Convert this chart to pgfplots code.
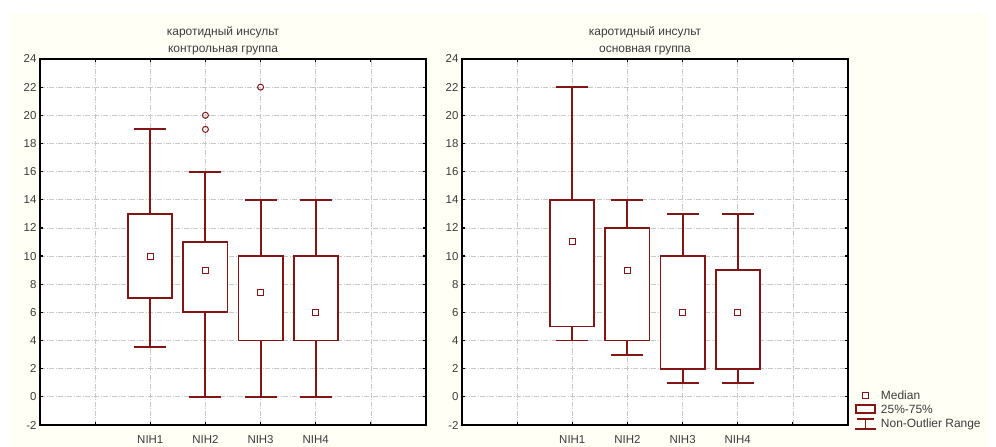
\documentclass[border=0pt]{standalone}
\usepackage{pgfplots}
\pgfplotsset{compat=1.18}
\usepgfplotslibrary{statistics}
\usepackage{fontspec}
\setmainfont{Liberation Sans}
\definecolor{bx}{RGB}{128,22,22}
\definecolor{bgc}{RGB}{255,255,245}
\definecolor{gr}{RGB}{200,200,200}
\definecolor{tx}{RGB}{60,60,60}
\newcommand{\fs}{\fontsize{12}{17}\selectfont}
\newcommand{\fst}{\fontsize{11.5}{14}\selectfont}
\pgfplotsset{
  mybox/.style={
    scale only axis, width=386bp, height=366bp,
    xmin=0, xmax=7, ymin=-2, ymax=24,
    xtick={0,1,2,3,4,5,6,7},
    xticklabels={,,NIH1,NIH2,NIH3,NIH4,,},
    ytick={-2,0,2,4,6,8,10,12,14,16,18,20,22,24},
    grid=major,
    major grid style={gr, dash pattern=on 5bp off 1.5bp on 1bp off 1.5bp, line width=0.7bp},
    tick align=inside, major tick length=3bp,
    tick style={black, line width=1.2bp},
    axis line style={black, line width=1.2bp},
    axis background/.style={fill=white},
    tick label style={font=\fst, text=tx},
    /pgf/number format/assume math mode=true,
    xticklabel style={yshift=-7bp},
    title style={font=\fs, text=tx, align=center, at={(0.5,1)}, anchor=south, yshift=-2.5bp, xshift=-10bp, inner sep=0pt},
    boxplot/draw direction=y,
    boxplot/box extend=0.8,
    boxplot/whisker extend=0.58,
    boxplot/every box/.style={fill=white},
    boxplot/draw/median/.code={},
  },
  bxs/.style={bx, line width=1.9bp, solid},
  medmark/.style={only marks, mark=square, mark size=3bp, bx, mark options={line width=1bp, fill=white}},
  outmark/.style={only marks, mark=o, mark size=3bp, bx, mark options={line width=1bp}},
}
\begin{document}
\begin{tikzpicture}
\path (0,0) rectangle (996bp,447bp);
\fill[bgc] (10bp,0) rectangle (990bp,434bp);
% left panel
\begin{axis}[mybox, at={(40bp,22bp)}, anchor=south west,
  title={каротидный инсульт\\контрольная группа}]
\addplot[bxs, boxplot prepared={draw position=2, lower whisker=3.55, lower quartile=7, median=10, upper quartile=13, upper whisker=19}] coordinates {};
\addplot[bxs, boxplot prepared={draw position=3, lower whisker=0, lower quartile=6, median=9, upper quartile=11, upper whisker=16}] coordinates {};
\addplot[bxs, boxplot prepared={draw position=4, lower whisker=0, lower quartile=4, median=7.4, upper quartile=10, upper whisker=14}] coordinates {};
\addplot[bxs, boxplot prepared={draw position=5, lower whisker=0, lower quartile=4, median=6, upper quartile=10, upper whisker=14}] coordinates {};
\addplot[medmark] coordinates {(2,10) (3,9) (4,7.4) (5,6)};
\addplot[outmark] coordinates {(3,19) (3,20) (4,22)};
\end{axis}
% right panel
\begin{axis}[mybox, at={(462bp,22bp)}, anchor=south west,
  title={каротидный инсульт\\основная группа},
  legend style={at={(1,0)}, anchor=south west, xshift=5bp, yshift=-7bp, draw=none, fill=none, font=\fs, text=tx, row sep=0pt, inner sep=1bp, legend cell align=left},
  legend image code/.code={}]
\addplot[bxs, forget plot, boxplot prepared={draw position=2, lower whisker=4, lower quartile=5, median=11, upper quartile=14, upper whisker=22}] coordinates {};
\addplot[bxs, forget plot, boxplot prepared={draw position=3, lower whisker=3, lower quartile=4, median=9, upper quartile=12, upper whisker=14}] coordinates {};
\addplot[bxs, forget plot, boxplot prepared={draw position=4, lower whisker=1, lower quartile=2, median=6, upper quartile=10, upper whisker=13}] coordinates {};
\addplot[bxs, forget plot, boxplot prepared={draw position=5, lower whisker=1, lower quartile=2, median=6, upper quartile=9, upper whisker=13}] coordinates {};
\addplot[medmark, forget plot] coordinates {(2,11) (3,9) (4,6) (5,6)};
\addlegendimage{legend image code/.code={\draw[bx, line width=1.1bp, fill=white] (7.5bp,-3bp) rectangle (13.5bp,3bp); \path[draw=none,fill=none] (0bp,0bp) (24bp,0bp);}}
\addlegendentry{Median}
\addlegendimage{legend image code/.code={\draw[bx, line width=1.6bp] (1bp,-3.5bp) rectangle (20bp,5bp); \path[draw=none,fill=none] (0bp,0bp) (24bp,0bp);}}
\addlegendentry{25\%-75\%}
\addlegendimage{legend image code/.code={\draw[bx, line width=1.6bp] (0bp,-5bp)--(21bp,-5bp) (10.5bp,-5bp)--(10.5bp,5bp) (2bp,5bp)--(19bp,5bp); \path[draw=none,fill=none] (0bp,0bp) (24bp,0bp);}}
\addlegendentry{Non-Outlier Range}
\end{axis}
\end{tikzpicture}
\end{document}
